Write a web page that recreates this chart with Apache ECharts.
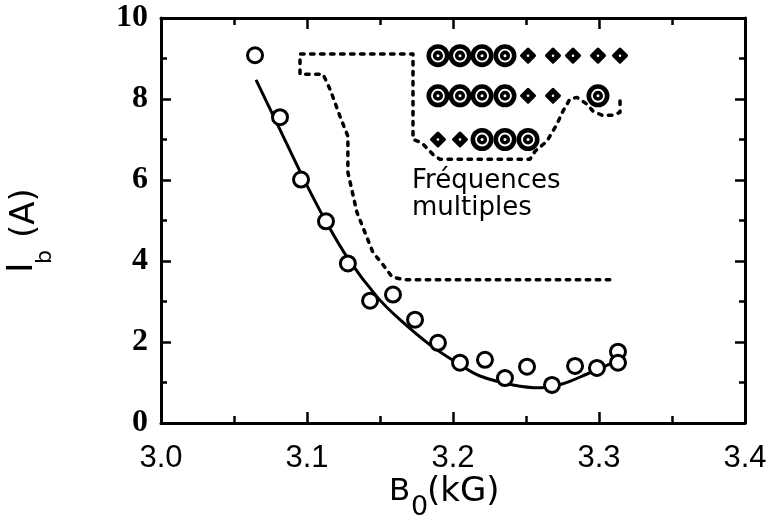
<!DOCTYPE html>
<html>
<head>
<meta charset="utf-8">
<script src="https://cdn.jsdelivr.net/npm/echarts@6/dist/echarts.min.js"></script>
<style>
  html, body { margin: 0; padding: 0; background: #ffffff; }
  #chart { width: 766px; height: 521px; }
</style>
</head>
<body>
<div id="chart"></div>
<script>
// Measured threshold current I_b versus guiding field B_0
const fieldB = [3.0644, 3.0815, 3.0959, 3.113, 3.128, 3.1432, 3.1589, 3.174, 3.1897,
                3.2048, 3.2219, 3.2356, 3.2507, 3.2678, 3.2836, 3.2986, 3.313, 3.313];
const currentIb = [9.08, 7.55, 6.01, 4.98, 3.94, 3.02, 3.17, 2.55, 1.98,
                   1.49, 1.56, 1.11, 1.39, 0.94, 1.41, 1.36, 1.76, 1.49];

// Fitted curve through the measurements
const fitB = [3.0651, 3.0801, 3.0966, 3.1123, 3.1281, 3.1486, 3.1637, 3.1842,
              3.2048, 3.2185, 3.2411, 3.2596, 3.2753, 3.2918, 3.3096];
const fitIb = [8.47, 7.35, 6.11, 5.02, 4.06, 3.09, 2.55, 1.93,
               1.44, 1.16, 0.94, 0.87, 0.97, 1.21, 1.49];

// Dashed boundary of the multiple-frequency region
const boundaryB = [3.3144, 3.3144, 3.3096, 3.302, 3.2959, 3.2918, 3.2849, 3.2801, 3.2753,
                   3.2712, 3.2644, 3.2562, 3.2527, 3.1911, 3.1863, 3.1786, 3.1726, 3.1726,
                   3.0952, 3.0952, 3.111, 3.1158, 3.1226, 3.128, 3.128, 3.1342, 3.1452,
                   3.152, 3.1582, 3.1658, 3.311];
const boundaryIb = [7.95, 7.67, 7.60, 7.60, 7.70, 7.87, 8.04, 8.00, 7.70,
                    7.38, 6.96, 6.71, 6.51, 6.51, 6.63, 6.92, 7.00, 9.11,
                    9.11, 8.61, 8.61, 8.24, 7.57, 7.08, 6.19, 5.20, 4.21,
                    3.91, 3.61, 3.54, 3.54];

// Mode map: 'R' = ring mode, 'd' = single dot, '.' = nothing
const modeCols = [3.1897, 3.2048, 3.2199, 3.2356, 3.2514, 3.2685, 3.2822, 3.2993, 3.3144];
const modeRows = [9.07, 8.08, 7.0];
const modePattern = ['RRRRddddd', 'RRRRdd.R.', 'ddRRR....'];

// Axis tick labels
const xTickLabels = ['3.0', '3.1', '3.2', '3.3', '3.4'];
const yTickLabels = ['0', '2', '4', '6', '8', '10'];

const measured = fieldB.map((b, i) => [b, currentIb[i]]);
const fitted = fitB.map((b, i) => [b, fitIb[i]]);
const boundary = boundaryB.map((b, i) => [b, boundaryIb[i]]);
const ringPts = [], dotPts = [];
modePattern.forEach((row, r) => {
  row.split('').forEach((c, k) => {
    if (c === 'R') ringPts.push([modeCols[k], modeRows[r]]);
    else if (c === 'd') dotPts.push([modeCols[k], modeRows[r]]);
  });
});

const ink = '#000000';
const sansFont = '"DejaVu Sans"';

function xAxisBase(pos) {
  return {
    type: 'value', position: pos, min: 3.0, max: 3.4, interval: 0.1,
    axisLine: { show: true, onZero: false, lineStyle: { color: ink, width: 3 } },
    axisTick: { show: true, inside: true, length: 11, lineStyle: { color: ink, width: 2.5 } },
    minorTick: { show: true, splitNumber: 2, length: 7, lineStyle: { color: ink, width: 2.5 } },
    splitLine: { show: false },
    axisLabel: { show: false }
  };
}
function yAxisBase(pos) {
  return {
    type: 'value', position: pos, min: 0, max: 10, interval: 2,
    axisLine: { show: true, onZero: false, lineStyle: { color: ink, width: 3 } },
    axisTick: { show: true, inside: true, length: 10, lineStyle: { color: ink, width: 2.5 } },
    minorTick: { show: true, splitNumber: 2, length: 6, lineStyle: { color: ink, width: 2.5 } },
    splitLine: { show: false },
    axisLabel: { show: false }
  };
}

const xBottom = xAxisBase('bottom');
xBottom.axisLabel = {
  show: true, margin: 20, color: ink, fontSize: 31,
  fontFamily: '"Liberation Sans Narrow", "Liberation Sans", sans-serif',
  showMinLabel: true, showMaxLabel: true,
  formatter: v => xTickLabels[Math.round((v - 3.0) / 0.1)]
};

const yLeft = yAxisBase('left');
yLeft.axisLabel = {
  show: true, margin: 13, color: ink, fontSize: 32, fontWeight: 'bold',
  fontFamily: '"Liberation Serif", serif',
  showMinLabel: true, showMaxLabel: true,
  formatter: v => yTickLabels[Math.round(v / 2)]
};

// Axis titles with subscripts, built from plain text pieces
function txt(text, x, y, size) {
  return {
    type: 'text', x: x, y: y,
    style: { text: text, font: size + 'px ' + sansFont, fill: ink, align: 'left', verticalAlign: 'middle' }
  };
}
const xTitle = {
  type: 'group', x: 389, y: 492,
  children: [txt('B', 0, 0, 31), txt('0', 22, 16, 27), txt('(kG)', 38, 0, 34)]
};
const yTitle = {
  type: 'group', x: 23, y: 273, rotation: Math.PI / 2,
  children: [txt('I', 0, 0, 36), txt('b', 9, 22, 22), txt('(A)', 35, 2, 34)]
};

const option = {
  animation: false,
  backgroundColor: '#ffffff',
  grid: { left: 161, right: 21, top: 18, bottom: 98, containLabel: false, outerBoundsMode: 'none' },
  xAxis: [xBottom, xAxisBase('top')],
  yAxis: [yLeft, yAxisBase('right')],
  graphic: [
    xTitle,
    yTitle,
    {
      type: 'text', x: 412, y: 168, z: 10,
      style: { text: 'Fréquences\nmultiples', font: '26px ' + sansFont, fill: ink, lineHeight: 27 }
    }
  ],
  series: [
    {
      name: 'fit', type: 'line', data: fitted, smooth: 0.35, symbol: 'none', z: 2,
      lineStyle: { color: ink, width: 3, opacity: 1 }, silent: true
    },
    {
      name: 'boundary', type: 'line', data: boundary, smooth: false, symbol: 'none', z: 2,
      lineStyle: { color: ink, width: 3.5, type: [3.5, 6.5], cap: 'round', join: 'round', opacity: 1 }, silent: true
    },
    {
      name: 'measured', type: 'scatter', data: measured, symbol: 'circle', symbolSize: 15, z: 3,
      itemStyle: { color: '#ffffff', borderColor: ink, borderWidth: 3, opacity: 1 }, silent: true
    },
    {
      name: 'ring outer', type: 'scatter', data: ringPts, symbol: 'circle', symbolSize: 23, z: 4,
      itemStyle: { color: ink, opacity: 1 }, silent: true
    },
    {
      name: 'ring inner', type: 'scatter', data: ringPts, symbol: 'circle', symbolSize: 12, z: 5,
      itemStyle: { color: ink, borderColor: '#ffffff', borderWidth: 1.8, opacity: 1 }, silent: true
    },
    {
      name: 'ring centre', type: 'scatter', data: ringPts, symbol: 'circle', symbolSize: 3, z: 6,
      itemStyle: { color: '#ffffff', opacity: 1 }, silent: true
    },
    {
      name: 'dot', type: 'scatter', data: dotPts, symbol: 'diamond', symbolSize: 13, z: 4,
      itemStyle: { color: ink, borderColor: ink, borderWidth: 3, borderJoin: 'round', opacity: 1 }, silent: true
    },
    {
      name: 'dot centre', type: 'scatter', data: dotPts, symbol: 'circle', symbolSize: 2.5, z: 6,
      itemStyle: { color: '#ffffff', opacity: 1 }, silent: true
    }
  ]
};

const chart = echarts.init(document.getElementById('chart'), null, { renderer: 'canvas' });
chart.setOption(option);
</script>
</body>
</html>
